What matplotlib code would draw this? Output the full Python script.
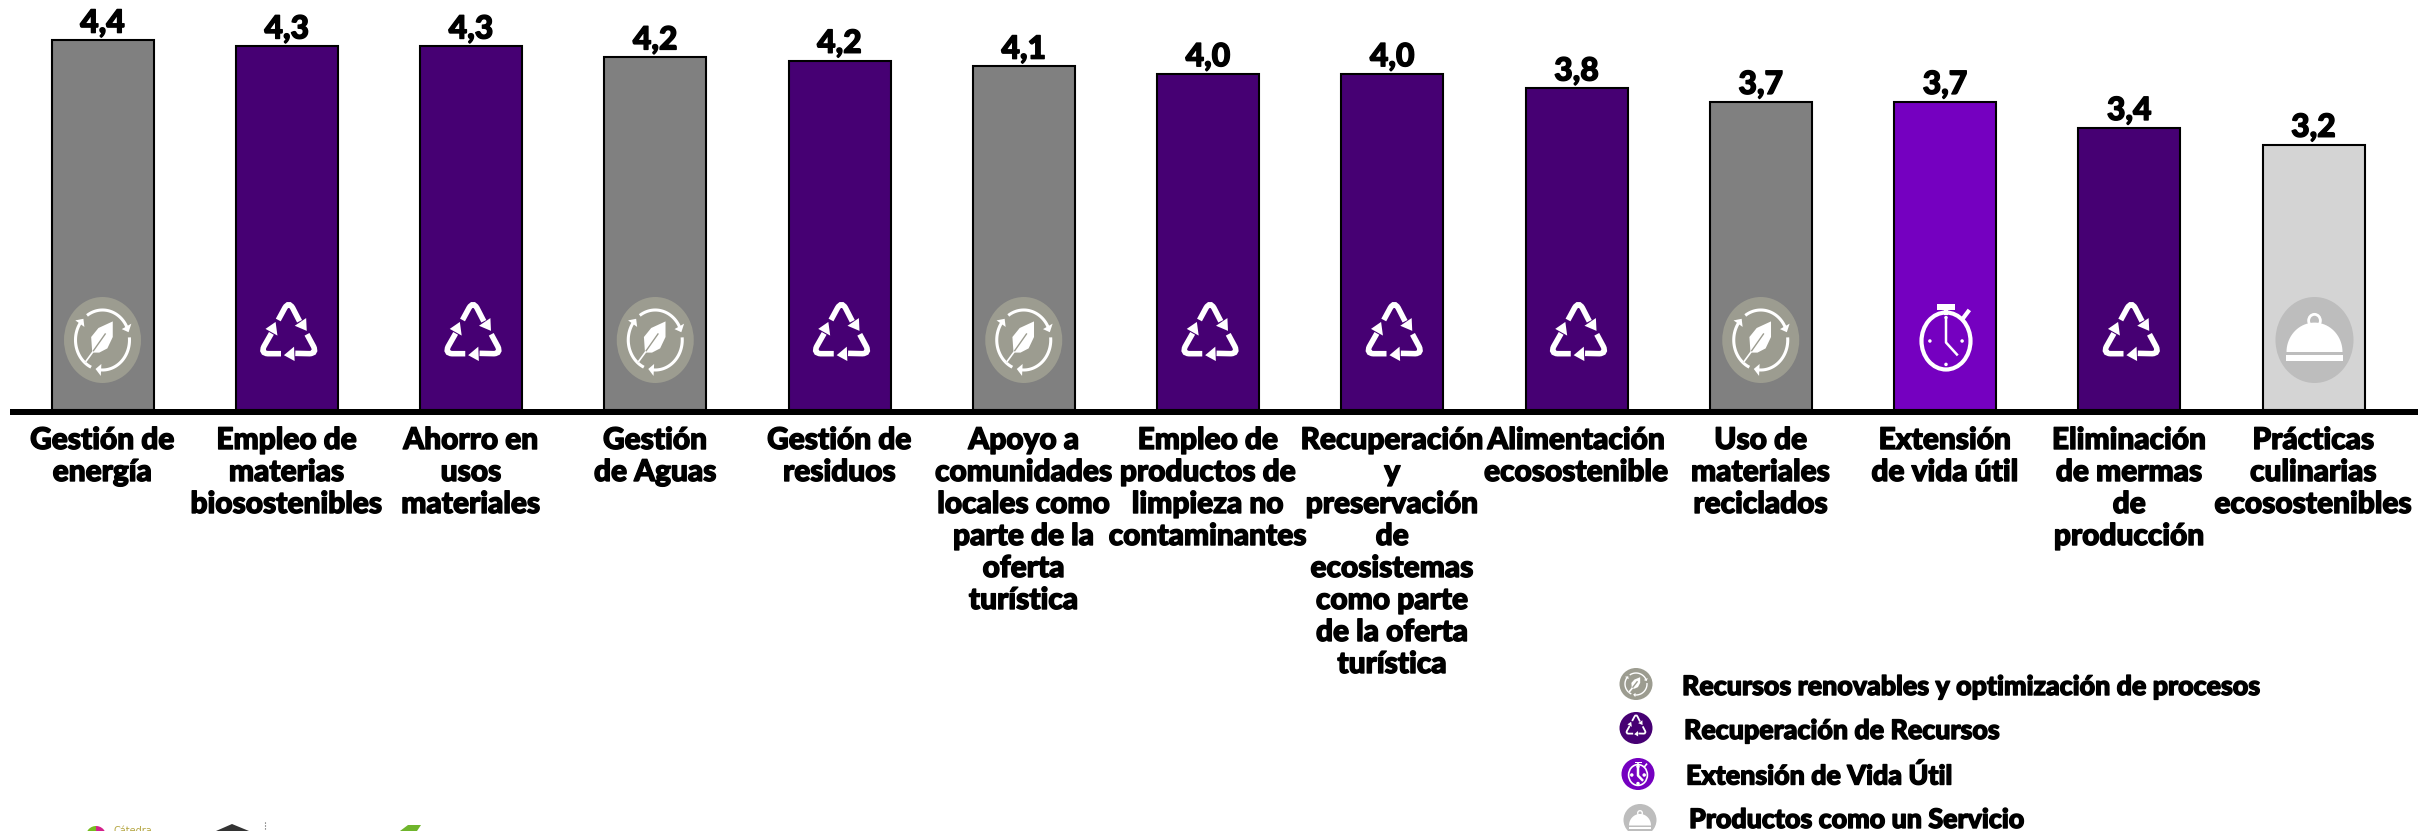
import numpy as np
import matplotlib
matplotlib.use("Agg")
import matplotlib.pyplot as plt
import matplotlib.patheffects as pe
from matplotlib.patches import Ellipse, Polygon, PathPatch, Rectangle, Wedge
from matplotlib.path import Path

W, H = 2418, 831

categories = ["Gestión de\nenergía", "Empleo de\nmaterias\nbiosostenibles", "Ahorro en\nusos\nmateriales",
              "Gestión\nde Aguas", "Gestión de\nresiduos",
              "Apoyo a\ncomunidades\nlocales como\nparte de la\noferta\nturística",
              "Empleo de\nproductos de\nlimpieza no\ncontaminantes",
              "Recuperación\ny\npreservación\nde\necosistemas\ncomo parte\nde la oferta\nturística",
              "Alimentación\necosostenible", "Uso de\nmateriales\nreciclados", "Extensión\nde vida útil",
              "Eliminación\nde mermas\nde\nproducción", "Prácticas\nculinarias\necosostenibles"]
values = [4.40, 4.33, 4.33, 4.20, 4.16, 4.09, 4.00, 4.00, 3.83, 3.67, 3.67, 3.36, 3.16]
value_labels = ["4,4", "4,3", "4,3", "4,2", "4,2", "4,1", "4,0", "4,0", "3,8", "3,7", "3,7", "3,4", "3,2"]
groups = ["ren", "rec", "rec", "ren", "rec", "ren", "rec", "rec", "rec", "ren", "ext", "rec", "ser"]

legend_labels = ["Recursos renovables y optimización de procesos", "Recuperación de Recursos",
                 "Extensión de Vida Útil", "Productos como un Servicio"]
legend_groups = ["ren", "rec", "ext", "ser"]

bar_colors = {"ren": "#808080", "rec": "#460073", "ext": "#7500c0", "ser": "#d4d4d4"}
disc_colors = {"ren": "#9c9c90", "rec": "#460073", "ext": "#7500c0", "ser": "#bdbdbd"}

FONT = dict(family=["Lato", "Roboto", "DejaVu Sans"], weight="black", color="black",
            path_effects=[pe.withStroke(linewidth=1.0, foreground="black")])

fig = plt.figure(figsize=(W / 100, H / 100), dpi=100)

# bar axes: one x unit is one bar step, y runs up from the black base line
base_y, px_per_unit = 410, 84
step, first_center = 184.25, 102.5
ax = fig.add_axes([10 / W, 1 - base_y / H, 2408 / W, base_y / H])
ax.set_xlim((10 - first_center) / step, (2418 - first_center) / step)
ax.set_ylim(0, base_y / px_per_unit)
ax.axis("off")
x = np.arange(len(values))
ax.bar(x, values, width=102 / step, color=[bar_colors[g] for g in groups],
       edgecolor="black", linewidth=1.5)

# overlay in image pixels for the icons and texts
ov = fig.add_axes([0, 0, 1, 1], zorder=5)
ov.set_xlim(0, W)
ov.set_ylim(H, 0)
ov.axis("off")
ov.patch.set_alpha(0)
ov.add_patch(Rectangle((10, 409), 2408, 6, color="black", lw=0))


def rot(pts, deg):
    a = np.radians(deg)
    r = np.array([[np.cos(a), -np.sin(a)], [np.sin(a), np.cos(a)]])
    return np.asarray(pts) @ r.T


def to_px(pts, cx, cy, sx, sy):
    pts = np.asarray(pts, dtype=float)
    return np.column_stack([cx + pts[:, 0] * sx, cy - pts[:, 1] * sy])


def recycle_icon(cx, cy, sx=30, sy=32, lw=4):
    arm = [(-0.35, 0.50), (-0.13, 0.88), (0.0, 1.08), (0.13, 0.88), (0.36, 0.46)]
    head = [(0.60, 0.16), (0.20, 0.32), (0.58, 0.56)]
    for deg in [0, -120, -240]:
        v = to_px(rot(arm, deg), cx, cy, sx, sy)
        ov.add_patch(PathPatch(Path(v, [Path.MOVETO, Path.LINETO, Path.CURVE3, Path.CURVE3, Path.LINETO]),
                               fc="none", ec="white", lw=lw, capstyle="butt", zorder=6))
        ov.add_patch(Polygon(to_px(rot(head, deg), cx, cy, sx, sy), fc="white", ec="none", zorder=6))


def renew_icon(cx, cy, sx=27, sy=30, lw=2.2):
    for a1, a2 in [(25, 125), (145, 245), (265, 5 + 360)]:
        t = np.radians(np.linspace(a1, a2, 30))
        ov.plot(cx + sx * np.cos(t), cy - sy * np.sin(t), color="white", lw=lw, zorder=6, solid_capstyle="butt")
        # arrow head at the clockwise start of each arc
        tip = np.radians(a1 - 10)
        p = np.array([np.cos(tip), np.sin(tip)])
        b = np.radians(a1 + 2)
        out = np.array([np.cos(b), np.sin(b)])
        ov.add_patch(Polygon(to_px([p, out * 1.2, out * 0.8], cx, cy, sx, sy), fc="white", ec="none", zorder=6))
    leaf = [(-0.38, -0.42), (-0.42, 0.10), (-0.15, 0.40), (0.38, 0.62), (0.38, 0.10), (0.18, -0.28), (-0.12, -0.42)]
    ov.add_patch(Polygon(to_px(leaf, cx, cy, sx, sy), fc="white", ec="none", zorder=6, joinstyle="round"))
    ov.plot(*to_px([(-0.62, -0.72), (0.1, 0.2)], cx, cy, sx, sy).T, color=disc_colors["ren"], lw=1, zorder=7)
    ov.plot(*to_px([(-0.62, -0.72), (-0.36, -0.4)], cx, cy, sx, sy).T, color="white", lw=1.2, zorder=7)


def watch_icon(cx, cy, sx=26, sy=30, lw=3):
    fg = "white"
    ov.add_patch(Ellipse((cx, cy), 2 * sx - lw, 2 * sy - lw, fc="none", ec=fg, lw=lw, zorder=6))
    ov.add_patch(Rectangle((cx - sx * 0.35, cy - sy * 1.22), sx * 0.7, sy * 0.17, fc=fg, ec="none", zorder=6))
    ov.plot([cx, cx], [cy - sy * 1.1, cy - sy * 0.95], color=fg, lw=lw, zorder=6)
    ov.plot([cx + sx * 0.65, cx + sx * 0.85], [cy - sy * 0.75, cy - sy * 0.98], color=fg, lw=lw, zorder=6)
    ov.plot([cx, cx, cx + sx * 0.42], [cy - sy * 0.7, cy + sy * 0.05, cy + sy * 0.45], color=fg, lw=1.8, zorder=6)
    for dx, dy in [(0, -0.78), (0, 0.78), (-0.62, 0), (0.62, 0)]:
        ov.add_patch(Ellipse((cx + dx * sx, cy + dy * sy), 3.5, 3.5, fc=fg, ec="none", zorder=6))


def cloche_icon(cx, cy, sx=28, sy=28, lw=2):
    t = np.radians(np.linspace(0, 180, 40))
    dome = np.column_stack([cx + sx * np.cos(t), cy + sy * 0.5 - sy * 1.05 * np.sin(t)])
    ov.add_patch(Polygon(dome, fc="white", ec="none", zorder=6))
    ov.add_patch(Ellipse((cx, cy - sy * 0.62), sx * 0.42, sy * 0.45, fc="none", ec="white", lw=lw, zorder=6))
    ov.add_patch(Rectangle((cx - sx * 1.02, cy + sy * 0.62), sx * 2.04, sy * 0.2, fc="white", ec="none", zorder=6))


centers = [first_center + step * i for i in x]
for cx, g in zip(centers, groups):
    if g == "ren":
        ov.add_patch(Ellipse((cx, 340), 77, 86, fc=disc_colors[g], ec="none", zorder=5))
        renew_icon(cx, 340)
    elif g == "rec":
        recycle_icon(cx + 2, 336)
    elif g == "ext":
        watch_icon(cx + 1, 341)
    else:
        ov.add_patch(Ellipse((cx + 1, 340), 78, 86, fc=disc_colors[g], ec="none", zorder=5))
        cloche_icon(cx + 1, 338)

for i, v, vl in zip(x, values, value_labels):
    ax.annotate(vl, (i, v), xytext=(0, 2), textcoords="offset points",
                ha="center", va="bottom", fontsize=23, **FONT)

for cx, cat in zip(centers, categories):
    for j, line in enumerate(cat.split("\n")):
        ov.text(cx, 440 + 32 * j, line, ha="center", va="center", fontsize=21.5, **FONT)

# legend
leg_icon_x = [1636, 1636, 1638, 1640]
leg_icon_y = [684, 728, 774, 820]
leg_text_x = [1682, 1684, 1686, 1689]
leg_text_y = [687, 731, 776, 820]
for g, lab, ix, iy, tx, ty in zip(legend_groups, legend_labels, leg_icon_x, leg_icon_y, leg_text_x, leg_text_y):
    ov.add_patch(Ellipse((ix, iy), 33, 32, fc=disc_colors[g], ec="none", zorder=5))
    if g == "ren":
        renew_icon(ix, iy, 11, 11, 1)
    elif g == "rec":
        recycle_icon(ix, iy - 1, 11, 12, 1.3)
    elif g == "ext":
        watch_icon(ix, iy + 1, 10, 11, 1.2)
    else:
        cloche_icon(ix, iy, 11, 11, 1)
    ov.text(tx, ty, lab, ha="left", va="center", fontsize=19.3, **FONT)

# logos cut off by the bottom edge
ov.add_patch(Wedge((96, 836), 10, 90, 270, fc="#76bc21", ec="none"))
ov.add_patch(Wedge((96, 836), 10, -90, 90, fc="#d3218b", ec="none"))
ov.text(113, 834, "Cátedra", fontsize=7, color="#b5a642", ha="left", va="baseline")
ov.add_patch(Polygon([(216, 831), (232, 824), (249, 831)], fc="#333333", ec="none"))
ov.plot([265, 265], [822, 831], color="#555555", lw=0.8, ls=":")
ov.add_patch(Polygon([(400, 831), (408, 825), (421, 825), (417, 831)], fc="#6fb52c", ec="none"))

fig.savefig("out.png", dpi=100, facecolor="white")
